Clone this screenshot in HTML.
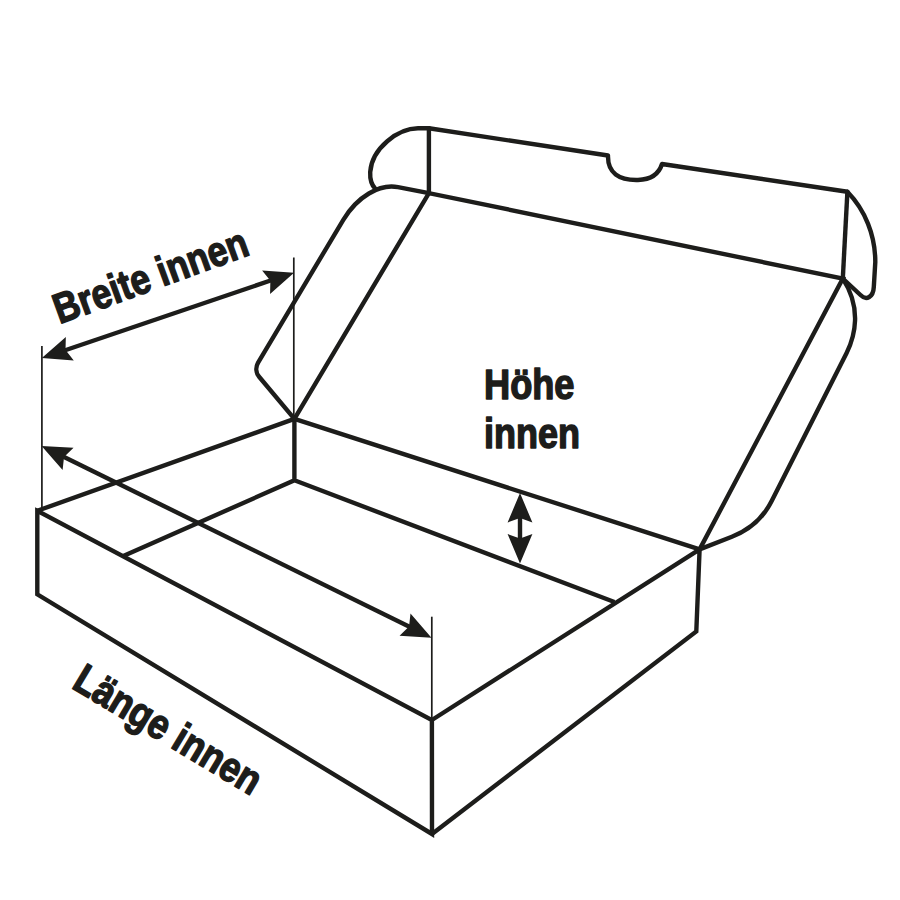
<!DOCTYPE html>
<html><head><meta charset="utf-8">
<style>
html,body{margin:0;padding:0;background:#fff;width:900px;height:900px;overflow:hidden}
svg{display:block}
text{font-family:"Liberation Sans",sans-serif;font-weight:bold;fill:#1d1d1b;stroke:#1d1d1b;stroke-width:1.5;stroke-linejoin:round}
</style></head>
<body>
<svg width="900" height="900" viewBox="0 0 900 900">
<rect width="900" height="900" fill="#fff"/>
<g fill="none" stroke="#1d1d1b" stroke-width="4.4" stroke-linejoin="miter" stroke-miterlimit="10" stroke-linecap="butt">
<!-- box -->
<path d="M37.3,510.8 L37.3,594.3 L432,834 L431.9,720 Z"/>
<path d="M431.9,720 L699.6,549.4 L696.3,631.4 L432,834"/>
<path d="M37.3,510.8 L294.4,418.9 L699.6,549.4"/>
<path d="M294.4,418.9 L294.4,480.3 L123.3,556.1 M294.4,480.3 L614.4,602"/>
<!-- lid -->
<path d="M294.4,418.9 L428.9,193.1 L842.8,278.6 L699.6,549.4"/>
<path d="M428.9,128.3 L428.9,193.1"/>
<path d="M847.4,191.8 L842.8,278.6"/>
</g>
<g fill="none" stroke="#1d1d1b" stroke-width="4.4" stroke-linejoin="round" stroke-linecap="round">
<path d="M428.9,128.3 L608,155.5 C607.5,173 619,180.5 638,180 C653,179.5 659.5,172 662,164 L847.4,191.8"/>
<!-- left flap -->
<path d="M428.9,128.3 L418,128.3 C398,128.5 372,148 370.2,172 C369.8,180 371.5,185 375.5,189"/>
<!-- right flap -->
<path d="M847.4,191.8 C865,210 875.3,235 875.3,262 L873.8,287 C873.3,297 866.5,301 860.5,295 L842.8,278.6"/>
<!-- lid outer left -->
<path d="M428.9,193.1 L398,187.2 C379.3,183.6 357.3,196.7 343.3,219.8 L258.1,362.7 C255.4,367.2 255.9,373 259.3,377 L294.4,418.9"/>
<!-- lid outer right -->
<path d="M699.6,549.4 L731.9,536.7 C749.2,530.2 763.5,517.3 771.8,500.8 L846.6,353 C855,336 862,308 842.8,278.6"/>
</g>
<!-- thin dimension lines -->
<g stroke="#1d1d1b" stroke-width="1.7" fill="none">
<path d="M41.9,346 L41.9,508"/>
<path d="M293.8,257.5 L293.8,417"/>
<path d="M431.8,616.7 L431.8,719"/>
</g>
<!-- arrows -->
<g stroke="#1d1d1b" stroke-width="4.4" fill="none">
<path d="M60,352 L275,279"/>
<path d="M60,455 L414,629"/>
<path d="M520,510 L520,546"/>
</g>
<path d="M1,0 L-28.5,-12.4 L-24,0 L-28.5,12.4 Z" fill="#1d1d1b" transform="translate(293.1,273.1) rotate(-18.69)"/>
<path d="M1,0 L-28.5,-12.4 L-24,0 L-28.5,12.4 Z" fill="#1d1d1b" transform="translate(42.8,357.8) rotate(161.31)"/>
<path d="M1,0 L-28.5,-12.4 L-24,0 L-28.5,12.4 Z" fill="#1d1d1b" transform="translate(430.6,637.2) rotate(26.18)"/>
<path d="M1,0 L-28.5,-12.4 L-24,0 L-28.5,12.4 Z" fill="#1d1d1b" transform="translate(42.5,446.4) rotate(206.18)"/>
<path d="M1,0 L-28.5,-12.4 L-24,0 L-28.5,12.4 Z" fill="#1d1d1b" transform="translate(520,494) rotate(-90)"/>
<path d="M1,0 L-28.5,-12.4 L-24,0 L-28.5,12.4 Z" fill="#1d1d1b" transform="translate(520,562.5) rotate(90)"/>
<!-- texts -->
<text x="484" y="399.4" font-size="42" textLength="90.5" lengthAdjust="spacingAndGlyphs">Höhe</text>
<text x="484" y="448.3" font-size="42" textLength="96" lengthAdjust="spacingAndGlyphs">innen</text>
<text transform="translate(59.6,324.1) rotate(-20)" x="0" y="0" font-size="42" textLength="204" lengthAdjust="spacingAndGlyphs">Breite innen</text>
<text transform="translate(70.5,687.3) rotate(31)" x="0" y="0" font-size="42" textLength="211" lengthAdjust="spacingAndGlyphs">Länge innen</text>
</svg>
</body></html>
